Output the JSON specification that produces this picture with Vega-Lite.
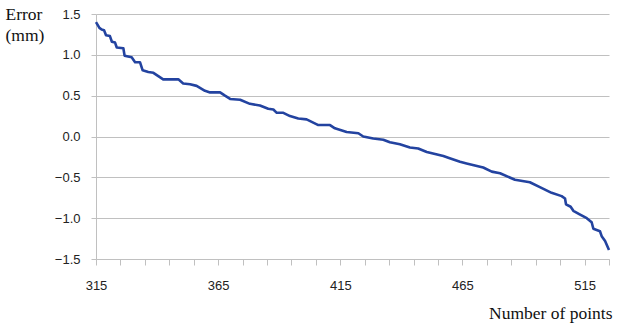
{
  "$schema": "https://vega.github.io/schema/vega-lite/v6.json",
  "width": 513,
  "height": 245,
  "autosize": "none",
  "padding": {"left": 96, "top": 14, "right": 9, "bottom": 68},
  "background": "white",
  "config": {"view": {"stroke": null}},
  "data": {"values": [
    {"n": 315.0, "err": 1.40}, {"n": 316.4, "err": 1.33}, {"n": 317.3, "err": 1.31}, {"n": 318.3, "err": 1.30},
    {"n": 319.1, "err": 1.24}, {"n": 320.7, "err": 1.23}, {"n": 321.5, "err": 1.16}, {"n": 322.8, "err": 1.15},
    {"n": 323.5, "err": 1.09}, {"n": 326.2, "err": 1.08}, {"n": 326.7, "err": 0.99}, {"n": 329.6, "err": 0.97},
    {"n": 331.0, "err": 0.91}, {"n": 333.0, "err": 0.91}, {"n": 334.1, "err": 0.81}, {"n": 336.4, "err": 0.79},
    {"n": 338.5, "err": 0.78}, {"n": 340.5, "err": 0.74}, {"n": 342.5, "err": 0.70}, {"n": 348.7, "err": 0.70},
    {"n": 350.7, "err": 0.65}, {"n": 353.5, "err": 0.64}, {"n": 356.2, "err": 0.62}, {"n": 359.6, "err": 0.56},
    {"n": 361.7, "err": 0.54}, {"n": 365.8, "err": 0.54}, {"n": 367.8, "err": 0.50}, {"n": 369.9, "err": 0.46},
    {"n": 374.0, "err": 0.45}, {"n": 378.0, "err": 0.40}, {"n": 382.1, "err": 0.38}, {"n": 385.5, "err": 0.34},
    {"n": 387.6, "err": 0.33}, {"n": 389.0, "err": 0.29}, {"n": 391.7, "err": 0.29}, {"n": 394.4, "err": 0.25},
    {"n": 397.8, "err": 0.22}, {"n": 401.2, "err": 0.21}, {"n": 403.3, "err": 0.18}, {"n": 406.0, "err": 0.14},
    {"n": 410.8, "err": 0.14}, {"n": 412.8, "err": 0.10}, {"n": 417.6, "err": 0.056}, {"n": 422.4, "err": 0.04},
    {"n": 424.4, "err": 0.0}, {"n": 428.5, "err": -0.025}, {"n": 432.6, "err": -0.04}, {"n": 435.3, "err": -0.07},
    {"n": 439.4, "err": -0.094}, {"n": 443.5, "err": -0.135}, {"n": 446.9, "err": -0.147}, {"n": 450.4, "err": -0.19},
    {"n": 457.2, "err": -0.24}, {"n": 459.2, "err": -0.26}, {"n": 464.0, "err": -0.31}, {"n": 466.7, "err": -0.33},
    {"n": 473.5, "err": -0.38}, {"n": 477.0, "err": -0.43}, {"n": 480.4, "err": -0.45}, {"n": 486.5, "err": -0.53},
    {"n": 492.6, "err": -0.56}, {"n": 496.7, "err": -0.62}, {"n": 501.5, "err": -0.69}, {"n": 505.6, "err": -0.73},
    {"n": 507.0, "err": -0.76}, {"n": 507.4, "err": -0.83}, {"n": 509.3, "err": -0.86}, {"n": 510.4, "err": -0.91},
    {"n": 512.8, "err": -0.95}, {"n": 515.9, "err": -1.0}, {"n": 517.9, "err": -1.05}, {"n": 518.6, "err": -1.13},
    {"n": 521.3, "err": -1.16}, {"n": 522.0, "err": -1.22}, {"n": 523.4, "err": -1.28}, {"n": 525.0, "err": -1.39}
  ]},
  "mark": {"type": "line", "color": "#2343a0", "strokeWidth": 2.6, "strokeJoin": "round"},
  "encoding": {
    "x": {
      "field": "n", "type": "quantitative",
      "scale": {"domain": [315, 525], "nice": false, "zero": false},
      "axis": {
        "values": [315, 325, 335, 345, 355, 365, 375, 385, 395, 405, 415, 425, 435, 445, 455, 465, 475, 485, 495, 505, 515, 525],
        "labelExpr": "(datum.value - 315) % 50 == 0 ? datum.label : ''",
        "format": "d",
        "grid": false,
        "domainColor": "#c0c0c0", "tickColor": "#c0c0c0", "tickSize": 6,
        "labelFont": "Liberation Sans", "labelFontSize": 13, "labelColor": "#222222",
        "labelPadding": 14, "labelFlush": false,
        "title": "Number of points",
        "titleFont": "Liberation Serif", "titleFontSize": 17.5, "titleFontWeight": "normal", "titleColor": "#111111",
        "titleAnchor": null, "titleAlign": "right", "titleBaseline": "middle", "titleX": 516, "titleY": 54
      }
    },
    "y": {
      "field": "err", "type": "quantitative",
      "scale": {"domain": [-1.5, 1.5], "nice": false},
      "axis": {
        "values": [-1.5, -1.0, -0.5, 0.0, 0.5, 1.0, 1.5],
        "format": ".1f",
        "grid": true, "gridColor": "#c0c0c0", "gridWidth": 1,
        "domainColor": "#c0c0c0", "tickColor": "#c0c0c0", "tickSize": 5,
        "labelFont": "Liberation Sans", "labelFontSize": 13, "labelColor": "#222222",
        "labelPadding": 11,
        "title": ["Error", "(mm)"],
        "titleFont": "Liberation Serif", "titleFontSize": 17.5, "titleFontWeight": "normal", "titleColor": "#111111",
        "titleAngle": 0, "titleAnchor": null, "titleAlign": "left", "titleBaseline": "top",
        "titleX": -91, "titleY": -9, "titleLineHeight": 21
      }
    }
  }
}
